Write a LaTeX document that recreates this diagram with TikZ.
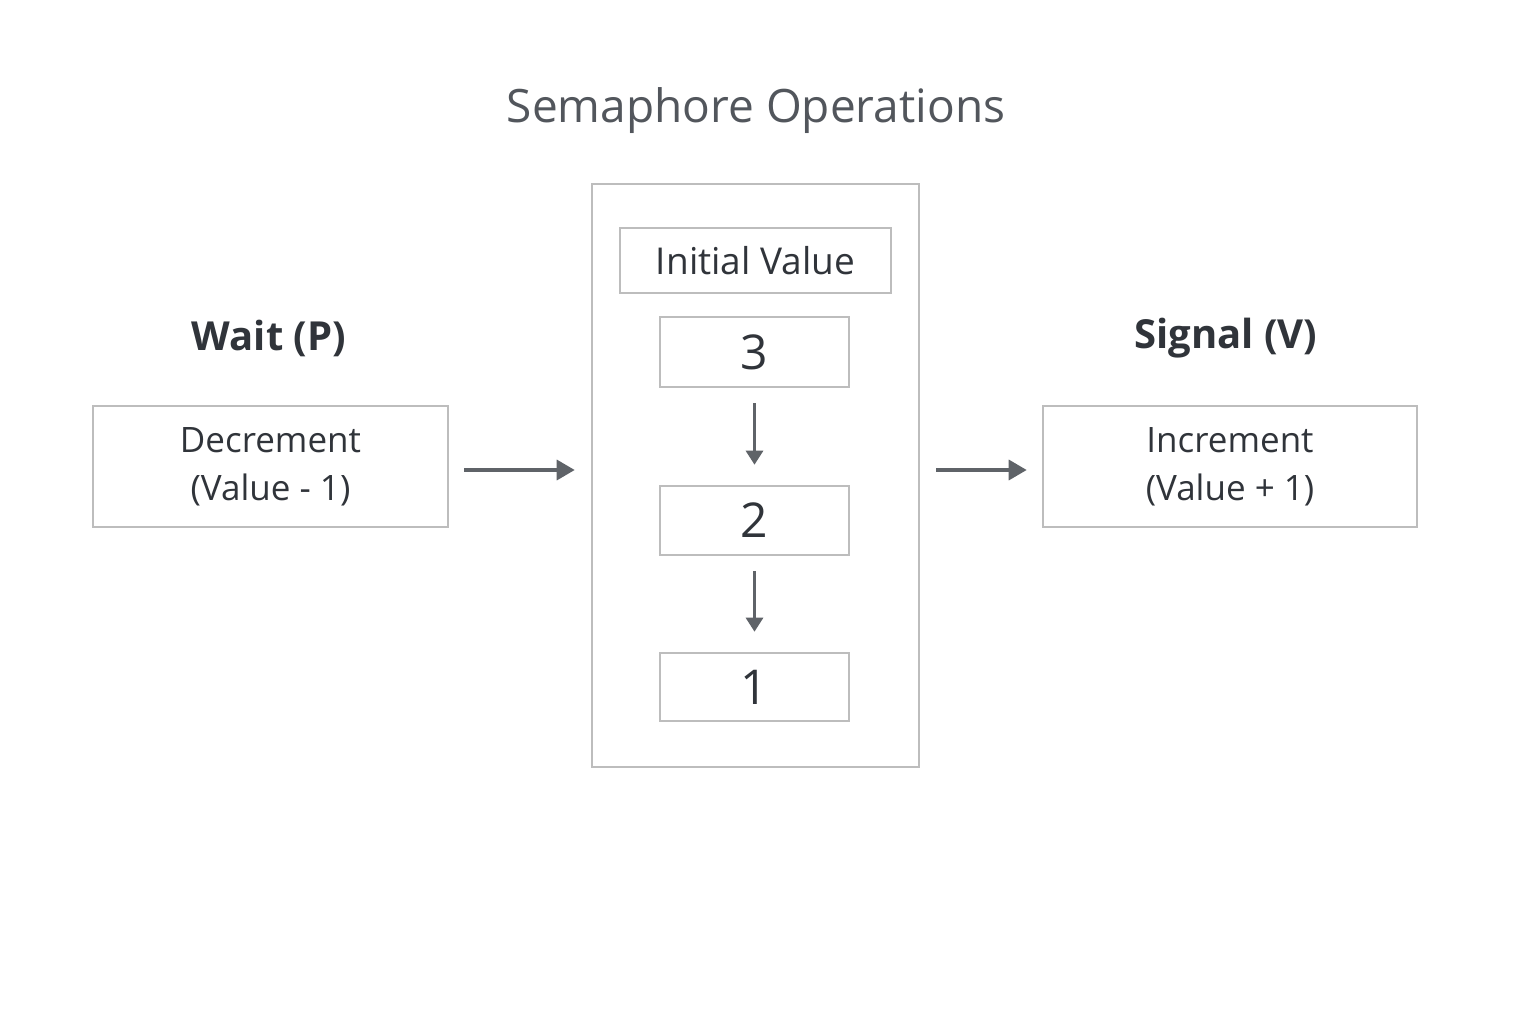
\documentclass[tikz,border=0pt]{standalone}
\usepackage{fontspec}
\setmainfont{Open Sans}
\usetikzlibrary{arrows.meta}
\definecolor{boxline}{HTML}{BDBDBD}
\definecolor{arrowc}{HTML}{5F6368}
\definecolor{titlec}{HTML}{52565C}
\definecolor{textc}{HTML}{30343A}
\tikzset{
  box/.style={draw=boxline, line width=2.6pt, fill=white, inner sep=0pt},
  conn/.style={draw=arrowc, line width=3.5pt, -{Triangle[length=18pt,width=20pt]}},
  vconn/.style={draw=arrowc, line width=3pt, -{Triangle[length=14pt,width=17pt]}},
}
\begin{document}
\begin{tikzpicture}[x=1pt,y=-1pt]
\useasboundingbox (0,0) rectangle (1536,1024);
\fill[white] (0,0) rectangle (1536,1024);

\node[text=titlec, font=\fontsize{46}{54}\selectfont] (title) at (756,111) {Semaphore Operations};

% central container
\node[box, minimum width=327pt, minimum height=583pt] (outer) at (755.5,475.5) {};
\node[box, minimum width=271pt, minimum height=65pt, text=textc, font=\fontsize{37}{44}\selectfont] (init) at (755.5,260.5) {Initial Value};
\node[box, minimum width=189pt, minimum height=70pt, text=textc, font=\fontsize{48}{56}\selectfont] (v3) at (754.5,352) {3};
\node[box, minimum width=189pt, minimum height=69pt, text=textc, font=\fontsize{48}{56}\selectfont] (v2) at (754.5,520.5) {2};
\node[box, minimum width=189pt, minimum height=68pt, text=textc, font=\fontsize{48}{56}\selectfont] (v1) at (754.5,687) {1};

\draw[vconn] ([yshift=-15pt]v3.south) -- ([yshift=20pt]v2.north);
\draw[vconn] ([yshift=-15pt]v2.south) -- ([yshift=20pt]v1.north);

% left side
\node[text=textc, font=\bfseries\fontsize{40}{48}\selectfont] (wait) at (269,338) {Wait (P)};
\node[box, minimum width=355pt, minimum height=121pt, text=textc, align=center, font=\fontsize{35}{48}\selectfont] (dec) at (270.5,466.5) {Decrement\\(Value - 1)};

% right side
\node[text=textc, font=\bfseries\fontsize{40}{48}\selectfont] (signal) at (1226,338) {Signal (V)};
\node[box, minimum width=374pt, minimum height=121pt, text=textc, align=center, font=\fontsize{35}{48}\selectfont] (inc) at (1230,466.5) {Increment\\(Value + 1)};

\coordinate (la) at ([xshift=15pt,yshift=-3.5pt]dec.east);
\coordinate (ra) at ([xshift=16pt]outer.east |- la);
\draw[conn] (la) -- ([xshift=-16pt]outer.west |- la);
\draw[conn] (ra) -- ([xshift=-15pt]inc.west |- la);
\end{tikzpicture}
\end{document}
